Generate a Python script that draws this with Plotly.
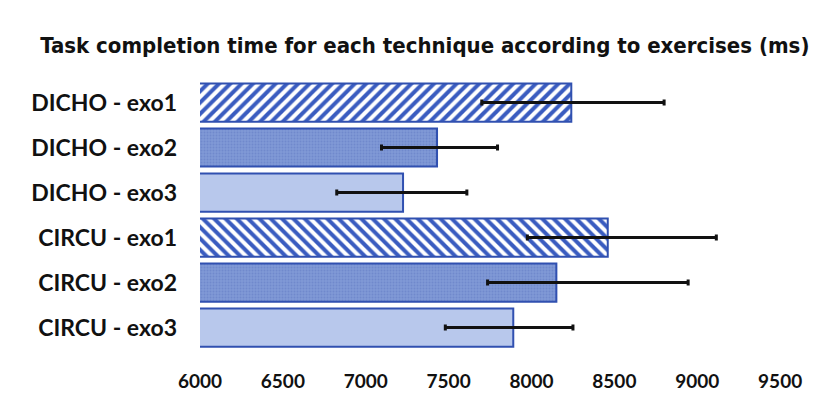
import plotly.graph_objects as go

categories = ["DICHO - exo1", "DICHO - exo2", "DICHO - exo3",
              "CIRCU - exo1", "CIRCU - exo2", "CIRCU - exo3"]
mean_time = [8240, 7430, 7225, 8460, 8150, 7890]
err_plus = [560, 365, 385, 655, 795, 360]
err_minus = [540, 335, 400, 485, 415, 410]
x_ticks = [6000, 6500, 7000, 7500, 8000, 8500, 9000, 9500]

# style per bar: (pattern shape, background colour, pattern colour, pattern size, solidity)
styles = [
    ("/", "#ffffff", "#3a5cc0", 8, 0.5),
    (".", "#8099d6", "#7089cc", 3, 0.3),
    ("", "#b8c8ec", "#b8c8ec", 8, 0.3),
    ("\\", "#ffffff", "#3a5cc0", 8, 0.5),
    (".", "#8099d6", "#7089cc", 3, 0.3),
    ("", "#b8c8ec", "#b8c8ec", 8, 0.3),
]

fig = go.Figure()
for i, cat in enumerate(categories):
    shape, bg, fg, size, sol = styles[i]
    fig.add_trace(go.Bar(
        y=[cat], x=[mean_time[i]], orientation="h",
        marker=dict(
            color=bg,
            line=dict(color="#3050b0", width=2),
            pattern=dict(shape=shape, fgcolor=fg, bgcolor=bg, size=size, solidity=sol,
                         fillmode="replace"),
        ),
        error_x=dict(type="data", symmetric=False, array=[err_plus[i]], arrayminus=[err_minus[i]],
                     color="#111111", thickness=3, width=3),
        showlegend=False,
    ))

label_font = "Lato, 'Open Sans', sans-serif"
# page body has an 8px margin, so figure coordinates are offset by 8px
fig.update_layout(
    width=819, height=396,
    margin=dict(l=192, r=22, t=72, b=52),
    paper_bgcolor="white", plot_bgcolor="white",
    barmode="overlay",
    bargap=0.15,
    title=dict(text="<b>Task completion time for each technique according to exercises (ms)</b>",
               x=0.509, xanchor="center", y=0.906, yanchor="middle",
               font=dict(family="'DejaVu Sans Condensed', 'Liberation Sans Narrow', sans-serif",
                         size=22, color="#111111")),
    xaxis=dict(range=[6000, 9650], tickvals=x_ticks, ticktext=[f"<b>{v}</b>" for v in x_ticks],
               showgrid=False, zeroline=False, showline=False, ticks="",
               ticklabelstandoff=18,
               tickfont=dict(family=label_font, size=19, color="#111111")),
    yaxis=dict(autorange="reversed", showgrid=False, showline=False, ticks="",
               categoryorder="array", categoryarray=categories,
               ticklabelstandoff=22,
               tickvals=categories, ticktext=[f"<b>{c}</b>" for c in categories],
               tickfont=dict(family=label_font, size=23, color="#111111")),
)
fig.write_html("out.html")
